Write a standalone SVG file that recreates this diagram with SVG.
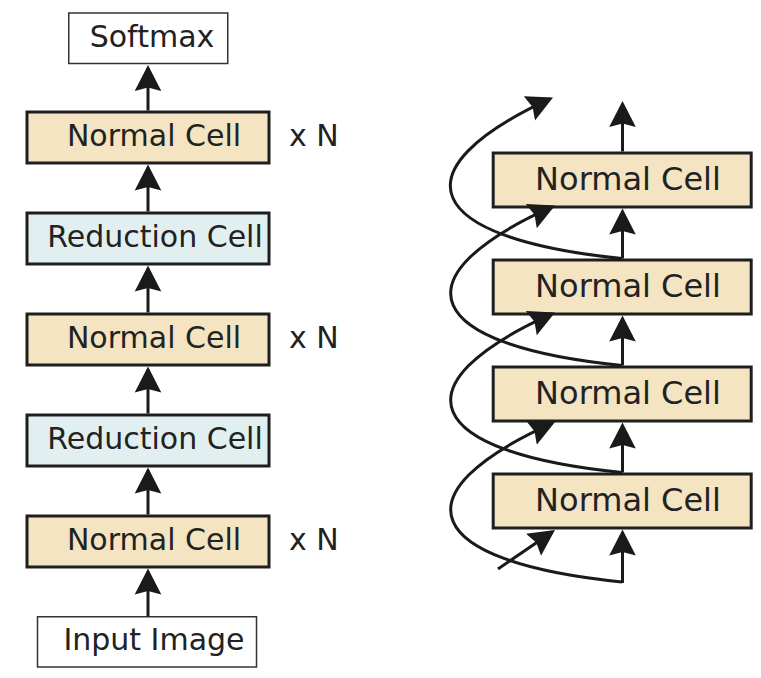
<svg xmlns="http://www.w3.org/2000/svg" width="761" height="678" viewBox="0 0 761 678">
  <style>
    text { font-family: "DejaVu Sans", Verdana, sans-serif; fill: #222; }
    .l { font-size: 30px; text-anchor: middle; }
    .r { font-size: 32px; text-anchor: middle; }
    .xn { font-size: 30px; }
    .normal { fill: #f4e4c2; stroke: #1e1e1e; stroke-width: 3; }
    .reduction { fill: #e2eff0; stroke: #1e1e1e; stroke-width: 3; }
    .io { fill: #ffffff; stroke: #333; stroke-width: 1.5; }
    .conn { fill: none; stroke: #1a1a1a; stroke-width: 3; marker-end: url(#ah); }
  </style>
  <defs>
    <marker id="ah" markerUnits="userSpaceOnUse" viewBox="0 -14 27 28" markerWidth="27" markerHeight="28" refX="23" refY="0" orient="auto">
      <path d="M0,-13.3 L26,0 L0,13.3 L3.5,0 Z" fill="#1a1a1a"/>
    </marker>
  </defs>
  <rect width="761" height="678" fill="#ffffff"/>

  <!-- Left column -->
  <g id="softmax"><rect class="io" x="68.75" y="13" width="159" height="50.5"/><text class="l" x="152" y="46.7">Softmax</text></g>
  <g id="normal-l1"><rect class="normal" x="27" y="112" width="242" height="51"/><text class="l" x="154" y="145.5">Normal Cell</text></g>
  <g id="reduction-l1"><rect class="reduction" x="27" y="213" width="242" height="51"/><text class="l" x="155" y="246.5">Reduction Cell</text></g>
  <g id="normal-l2"><rect class="normal" x="27" y="314" width="242" height="51"/><text class="l" x="154" y="347.5">Normal Cell</text></g>
  <g id="reduction-l2"><rect class="reduction" x="27" y="415" width="242" height="51"/><text class="l" x="155" y="448.5">Reduction Cell</text></g>
  <g id="normal-l3"><rect class="normal" x="27" y="516" width="242" height="51"/><text class="l" x="154" y="549.5">Normal Cell</text></g>
  <g id="input"><rect class="io" x="37.5" y="616.75" width="219" height="50.25"/><text class="l" x="154" y="650">Input Image</text></g>
  <g id="labels">
    <text class="xn" x="289" y="145.5">x N</text>
    <text class="xn" x="289" y="347.5">x N</text>
    <text class="xn" x="289" y="549.5">x N</text>
  </g>

  <!-- Right column -->
  <g id="normal-r1"><rect class="normal" x="493.2" y="153" width="258" height="54"/><text class="r" x="628" y="190">Normal Cell</text></g>
  <g id="normal-r2"><rect class="normal" x="493.2" y="260" width="258" height="54"/><text class="r" x="628" y="297">Normal Cell</text></g>
  <g id="normal-r3"><rect class="normal" x="493.2" y="367" width="258" height="54"/><text class="r" x="628" y="404">Normal Cell</text></g>
  <g id="normal-r4"><rect class="normal" x="493.2" y="474" width="258" height="54"/><text class="r" x="628" y="511">Normal Cell</text></g>

  <g id="connectors">
    <!-- left vertical -->
    <path class="conn" d="M148,110.5 V68"/>
    <path class="conn" d="M148,211.5 V167.5"/>
    <path class="conn" d="M148,312.5 V268.5"/>
    <path class="conn" d="M148,413.5 V369.5"/>
    <path class="conn" d="M148,514.5 V470.5"/>
    <path class="conn" d="M148,616.5 V571.5"/>
    <!-- right vertical -->
    <path class="conn" d="M622.5,151.5 V104"/>
    <path class="conn" d="M622.5,258.5 V211.5"/>
    <path class="conn" d="M622.5,365.5 V318.5"/>
    <path class="conn" d="M622.5,472.5 V425.5"/>
    <path class="conn" d="M622.5,583 V532.5"/>
    <!-- skip connections -->
    <path class="conn" d="M498,569 L552.5,531.7"/>
    <path class="conn" d="M622,582 c -200,-20 -227,-88 -69.7,-158.8"/>
    <path class="conn" d="M622,472.5 c -200,-20 -227,-88 -69.7,-158.8"/>
    <path class="conn" d="M622,365.5 c -200,-20 -227,-88 -69.7,-158.8"/>
    <path class="conn" d="M622,258.5 c -200,-20 -227,-88 -71.7,-159.8"/>
  </g>
</svg>
